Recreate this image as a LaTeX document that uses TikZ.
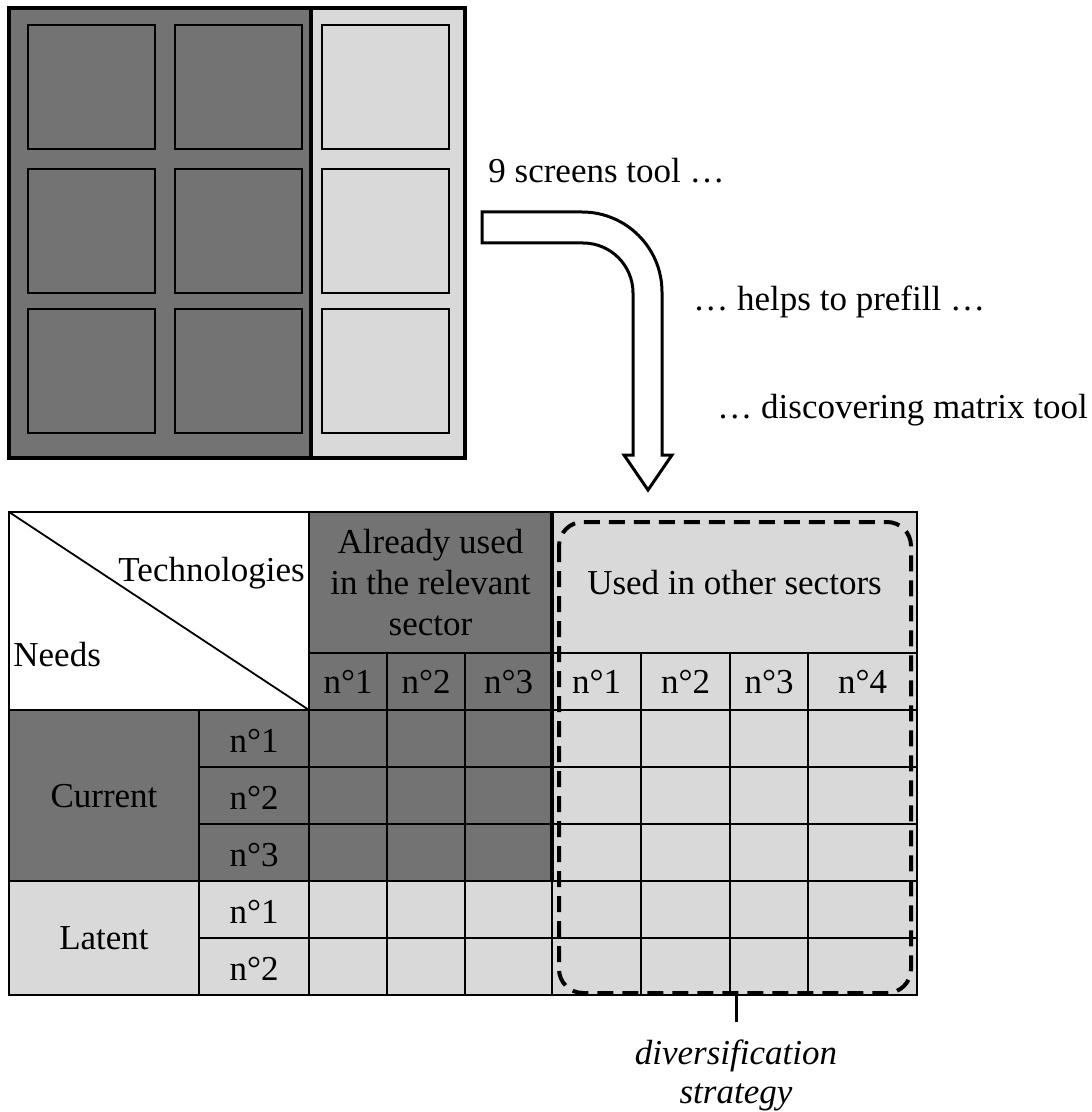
\documentclass[tikz,border=0pt]{standalone}
\usepackage{fontspec}
\setmainfont{Liberation Serif}
\begin{document}
\begin{tikzpicture}[x=0.5pt, y=-0.5pt,
    darkcell/.style={fill=black!55},
    lightcell/.style={fill=black!15},
    txt/.style={font=\fontsize{17.5}{20.5}\selectfont, inner sep=0pt},
    thinline/.style={line width=0.9pt}]
\useasboundingbox (0,0) rectangle (1091,1112);

% --- 9 screens tool ---
\fill[darkcell] (9,8) rectangle (311,458);
\fill[lightcell] (311,8) rectangle (465,458);
\foreach \x in {28,175,322} {
    \foreach \y in {25,169,309} {
        \draw[line width=1pt] (\x,\y) rectangle ++(127,124);
    }
}
\draw[line width=1.6pt] (9,8) rectangle (465,458);
\draw[line width=1.6pt] (311,8) -- (311,458);

% --- bent arrow ---
\draw[line width=1.5pt, fill=white, line join=miter]
    (482,212) -- (582,212) arc[start angle=-90, end angle=0, radius=80]
    -- (662,455) -- (672,455) -- (648,490) -- (624,455) -- (633,455)
    -- (633,293) arc[start angle=0, end angle=-90, radius=50]
    -- (482,243) -- cycle;

\node[txt, anchor=base west] (nine) at (488,183) {9 screens tool …};
\node[txt, anchor=base west] (helps) at (693,311) {… helps to prefill …};
\node[txt, anchor=base west] (disc) at (717,418) {… discovering matrix tool};

% --- discovering matrix: shading ---
\fill[darkcell] (309,512) rectangle (552,710);
\fill[darkcell] (9,710) rectangle (552,881);
\fill[lightcell] (552,512) rectangle (917,995);
\fill[lightcell] (9,881) rectangle (552,995);

% --- grid ---
\begin{scope}[thinline]
    \draw (9,512) rectangle (917,995);
    \draw (9,512) -- (309,710);
    \draw (309,512) -- (309,995);
    \draw (199,710) -- (199,995);
    \foreach \x in {387,465,641,730,808} {
        \draw (\x,653) -- (\x,995);
    }
    \draw (552,881) -- (552,995);
    \draw (309,653) -- (917,653);
    \foreach \y in {710,881} {
        \draw (9,\y) -- (917,\y);
    }
    \foreach \y in {767,824,938} {
        \draw (199,\y) -- (917,\y);
    }
\end{scope}
\draw[line width=2pt] (552,512) -- (552,881);

% --- headers ---
\node[txt, anchor=base east] (tech) at (305,581) {Technologies};
\node[txt, anchor=base west] (needs) at (13,666) {Needs};
\node[txt, align=center] (already) at (430.5,583) {Already used\\in the relevant\\sector};
\node[txt] (other) at (734.5,583) {Used in other sectors};
\foreach \i/\x in {1/348,2/426,3/508.5} {
    \node[txt, anchor=base] (ar\i) at (\x,693) {n°\i};
}
\foreach \i/\x in {1/596.5,2/685.5,3/769,4/862.5} {
    \node[txt, anchor=base] (os\i) at (\x,693) {n°\i};
}

% --- needs rows ---
\node[txt, anchor=base] (current) at (104,807) {Current};
\node[txt, anchor=base] (latent) at (104,949) {Latent};
\foreach \i/\y in {1/752,2/809,3/866} {
    \node[txt, anchor=base] (cur\i) at (254,\y) {n°\i};
}
\foreach \i/\y in {1/923,2/980} {
    \node[txt, anchor=base] (lat\i) at (254,\y) {n°\i};
}

% --- diversification strategy ---
\draw[line width=2pt, dash pattern=on 8pt off 4.5pt, rounded corners=12pt]
    (559,522) rectangle (911,993);
\coordinate (tick) at (736,995);
\node[txt, align=center, anchor=north, inner ysep=8.5pt, font=\fontsize{17.5}{19.5}\selectfont\itshape]
    (strategy) at (736,1022) {diversification\\strategy};
\draw[line width=1.5pt] (tick) -- (strategy.north);

\end{tikzpicture}
\end{document}
